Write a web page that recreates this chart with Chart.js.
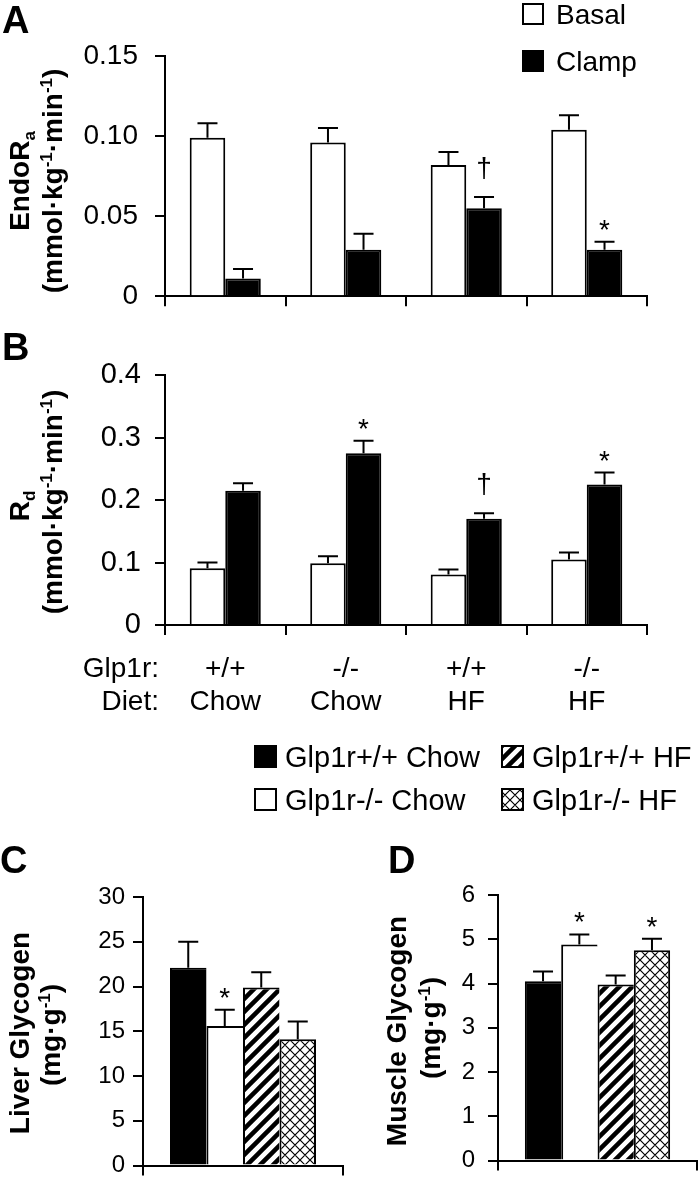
<!DOCTYPE html>
<html><head><meta charset="utf-8">
<script src="https://cdn.jsdelivr.net/npm/chart.js@4.4.0/dist/chart.umd.min.js"></script>
<style>
html,body{margin:0;padding:0;background:#fff;}
#wrap{position:relative;width:700px;height:1188px;overflow:hidden;background:#fff;}
canvas{position:absolute;}
</style></head><body>
<div id="wrap">
<canvas id="cA" width="700" height="330" style="left:0;top:0"></canvas>
<canvas id="cB" width="700" height="510" style="left:0;top:330px"></canvas>
<canvas id="cC" width="350" height="348" style="left:0;top:840px"></canvas>
<canvas id="cD" width="350" height="348" style="left:350px;top:840px"></canvas>
</div>
<script>
// ---------- data ----------
const genotypes = ['+/+', '-/-', '+/+', '-/-'];
const diets = ['Chow', 'Chow', 'HF', 'HF'];
const rowHeaders = ['Glp1r:', 'Diet:'];
const seriesAB = ['Basal', 'Clamp'];
const endoBasal = [0.099, 0.096, 0.082, 0.104];
const endoBasalSem = [0.009, 0.009, 0.008, 0.009];
const endoClamp = [0.011, 0.029, 0.055, 0.029];
const endoClampSem = [0.006, 0.010, 0.007, 0.005];
const rdBasal = [0.091, 0.099, 0.081, 0.105];
const rdBasalSem = [0.009, 0.011, 0.008, 0.011];
const rdClamp = [0.215, 0.275, 0.170, 0.225];
const rdClampSem = [0.012, 0.020, 0.009, 0.019];
const groupsCD = ['Glp1r+/+ Chow', 'Glp1r-/- Chow', 'Glp1r+/+ HF', 'Glp1r-/- HF'];
const liverGlycogen = [22.1, 15.6, 19.9, 14.1];
const liverGlycogenSem = [2.9, 1.8, 1.7, 2.0];
const muscleGlycogen = [4.05, 4.88, 3.98, 4.75];
const muscleGlycogenSem = [0.22, 0.23, 0.20, 0.26];
const yTicksA = ['0', '0.05', '0.10', '0.15'];
const yTicksB = ['0', '0.1', '0.2', '0.3', '0.4'];
const yTicksC = ['0', '5', '10', '15', '20', '25', '30'];
const yTicksD = ['0', '1', '2', '3', '4', '5', '6'];
// [dataset, index, symbol]
const marksA = [[1, 2, '†'], [1, 3, '*']];
const marksB = [[1, 1, '*'], [1, 2, '†'], [1, 3, '*']];
const marksC = [[1, 0, '*']];
const marksD = [[1, 0, '*'], [3, 0, '*']];

// ---------- helpers ----------
const FONT = '"Liberation Sans", Arial, Helvetica, sans-serif';
function fnt(size, bold) { return (bold ? 'bold ' : '') + size + 'px ' + FONT; }
function drawRich(ctx, segs, x, y, size, bold, align) {
  let total = 0;
  const items = segs.map(s => {
    const sz = (s.sub || s.sup) ? Math.round(size * 0.62) : size;
    ctx.font = fnt(sz, bold);
    const w = ctx.measureText(s.t).width;
    total += w;
    return { s, sz, w };
  });
  let cx = align === 'center' ? x - total / 2 : align === 'right' ? x - total : x;
  ctx.textAlign = 'left'; ctx.textBaseline = 'alphabetic'; ctx.fillStyle = '#000';
  items.forEach(it => {
    ctx.font = fnt(it.sz, bold);
    const dy = it.s.sub ? size * 0.2 : it.s.sup ? -size * 0.36 : 0;
    ctx.fillText(it.s.t, cx, y + dy);
    cx += it.w;
  });
}
function drawRotated(ctx, lines, size) {
  lines.forEach(l => {
    ctx.save(); ctx.translate(l.x, l.cy); ctx.rotate(-Math.PI / 2);
    drawRich(ctx, l.segs, 0, 0, size, true, 'center');
    ctx.restore();
  });
}
function drawBox(ctx, x, y, w, h, fill) {
  ctx.fillStyle = fill; ctx.fillRect(x, y, w, h);
  ctx.strokeStyle = '#000'; ctx.lineWidth = 2; ctx.strokeRect(x + 1, y + 1, w - 2, h - 2);
}
function makeHatch() {
  const s = 13, c = document.createElement('canvas'); c.width = c.height = s;
  const g = c.getContext('2d');
  g.fillStyle = '#fff'; g.fillRect(0, 0, s, s);
  g.strokeStyle = '#000'; g.lineWidth = 4.5;
  g.beginPath();
  g.moveTo(0, s); g.lineTo(s, 0);
  g.moveTo(-s / 2, s / 2); g.lineTo(s / 2, -s / 2);
  g.moveTo(s / 2, s * 1.5); g.lineTo(s * 1.5, s / 2);
  g.stroke();
  return g.createPattern(c, 'repeat');
}
function makeCross() {
  const s = 10, c = document.createElement('canvas'); c.width = c.height = s;
  const g = c.getContext('2d');
  g.fillStyle = '#fff'; g.fillRect(0, 0, s, s);
  g.strokeStyle = '#000'; g.lineWidth = 1.2;
  g.beginPath();
  g.moveTo(0, s); g.lineTo(s, 0);
  g.moveTo(-s / 2, s / 2); g.lineTo(s / 2, -s / 2);
  g.moveTo(s / 2, s * 1.5); g.lineTo(s * 1.5, s / 2);
  g.moveTo(0, 0); g.lineTo(s, s);
  g.moveTo(s / 2, -s / 2); g.lineTo(s * 1.5, s / 2);
  g.moveTo(-s / 2, s / 2); g.lineTo(s / 2, s * 1.5);
  g.stroke();
  return g.createPattern(c, 'repeat');
}
const hatch = makeHatch(), cross = makeCross();
const fillsCD = ['#000', '#fff', hatch, cross];

function extras(marks) {
  return {
    id: 'extras',
    afterDatasetsDraw(chart) {
      const ctx = chart.ctx, ys = chart.scales.y;
      ctx.save(); ctx.strokeStyle = '#000'; ctx.lineWidth = 2;
      chart.data.datasets.forEach((ds, di) => {
        chart.getDatasetMeta(di).data.forEach((el, i) => {
          const yb = ys.getPixelForValue(ds.data[i]);
          const yt = ys.getPixelForValue(ds.data[i] + ds.sem[i]);
          ctx.beginPath();
          ctx.moveTo(el.x, yb); ctx.lineTo(el.x, yt);
          ctx.moveTo(el.x - 10, yt); ctx.lineTo(el.x + 10, yt);
          ctx.stroke();
        });
      });
      ctx.fillStyle = '#000'; ctx.font = fnt(28, false); ctx.textAlign = 'center'; ctx.textBaseline = 'alphabetic';
      marks.forEach(([di, i, s]) => {
        const ds = chart.data.datasets[di];
        const el = chart.getDatasetMeta(di).data[i];
        const yt = ys.getPixelForValue(ds.data[i] + ds.sem[i]);
        ctx.fillText(s, el.x, yt + (s === '†' ? -20 : -3));
      });
      ctx.restore();
    }
  };
}
function decor(offX, offY, fn) {
  return { id: 'decor', afterDraw(chart) {
    const ctx = chart.ctx; ctx.save(); ctx.translate(-offX, -offY); fn(chart, ctx, offX, offY); ctx.restore();
  } };
}
const gridStyle = { drawOnChartArea: false, drawTicks: true, tickLength: 10, color: '#000', lineWidth: 2 };
const borderStyle = { display: true, color: '#000', width: 2 };
const common = {
  responsive: false, animation: false, devicePixelRatio: 1,
  events: [],
  plugins: { legend: { display: false }, tooltip: { enabled: false } }
};
function yScale(max, step, labels, size, pad, width) {
  return {
    min: 0, max: max,
    ticks: { stepSize: step, callback: (v, i) => labels[i], font: { family: FONT, size: size }, color: '#000', padding: pad },
    grid: Object.assign({}, gridStyle), border: Object.assign({}, borderStyle),
    afterFit(s) { s.width = width; }
  };
}
function abDatasets(b, bs, c, cs) {
  return [
    { label: seriesAB[0], data: b, sem: bs, backgroundColor: '#fff', borderColor: '#000', borderWidth: 2, borderSkipped: 'start', categoryPercentage: 0.59, barPercentage: 1 },
    { label: seriesAB[1], data: c, sem: cs, backgroundColor: '#000', borderColor: '#000', borderWidth: 2, borderSkipped: 'start', categoryPercentage: 0.59, barPercentage: 1 }
  ];
}
const titleA = [
  { x: 29, cy: 181, segs: [{ t: 'EndoR' }, { t: 'a', sub: true }] },
  { x: 62, cy: 181, segs: [{ t: '(mmol·kg' }, { t: '-1', sup: true }, { t: '·min' }, { t: '-1', sup: true }, { t: ')' }] }
];
const titleB = [
  { x: 29, cy: 506, segs: [{ t: 'R' }, { t: 'd', sub: true }] },
  { x: 62, cy: 502, segs: [{ t: '(mmol·kg' }, { t: '-1', sup: true }, { t: '·min' }, { t: '-1', sup: true }, { t: ')' }] }
];
const titleC = [
  { x: 29, cy: 1033, segs: [{ t: 'Liver Glycogen' }] },
  { x: 60, cy: 1035, segs: [{ t: '(mg·g' }, { t: '-1', sup: true }, { t: ')' }] }
];
const titleD = [
  { x: 406, cy: 1031, segs: [{ t: 'Muscle Glycogen' }] },
  { x: 440, cy: 1028, segs: [{ t: '(mg·g' }, { t: '-1', sup: true }, { t: ')' }] }
];

// ---------- Chart A ----------
new Chart(document.getElementById('cA'), {
  type: 'bar',
  data: { labels: genotypes, datasets: abDatasets(endoBasal, endoBasalSem, endoClamp, endoClampSem) },
  options: Object.assign({}, common, {
    layout: { padding: { left: 0, right: 53, top: 56, bottom: 15 } },
    scales: {
      x: { grid: Object.assign({ offset: true }, gridStyle), border: borderStyle, ticks: { display: false }, afterFit(s) { s.height = 10; } },
      y: yScale(0.15, 0.05, yTicksA, 28, 17, 165)
    }
  }),
  plugins: [extras(marksA), decor(0, 0, (chart, ctx) => {
    drawRich(ctx, [{ t: 'A' }], 2, 33, 38, true, 'left');
    chart.data.datasets.forEach((ds, i) => {
      const y = i === 0 ? 3 : 50;
      drawBox(ctx, 522, y, 22, 22, ds.backgroundColor);
      drawRich(ctx, [{ t: ds.label }], 556, y + 21, 28, false, 'left');
    });
    drawRotated(ctx, titleA, 28);
  })]
});

// ---------- Chart B ----------
const xLineH = 28 * 1.2, xPad = 17;
new Chart(document.getElementById('cB'), {
  type: 'bar',
  data: { labels: genotypes.map((g, i) => [g, diets[i]]), datasets: abDatasets(rdBasal, rdBasalSem, rdClamp, rdClampSem) },
  options: Object.assign({}, common, {
    layout: { padding: { left: 0, right: 53, top: 45, bottom: 0 } },
    scales: {
      x: { grid: Object.assign({ offset: true }, gridStyle), border: borderStyle,
           ticks: { display: true, autoSkip: false, maxRotation: 0, padding: xPad, color: '#000', font: { family: FONT, size: 28, lineHeight: 1.2 } },
           afterFit(s) { s.height = 215; } },
      y: yScale(0.4, 0.1, yTicksB, 29, 14, 165)
    }
  }),
  plugins: [extras(marksB), decor(0, 330, (chart, ctx, ox, oy) => {
    drawRich(ctx, [{ t: 'B' }], 2, 360, 38, true, 'left');
    drawRotated(ctx, titleB, 28);
    // row headers aligned with tick label lines
    const xs = chart.scales.x;
    const y0 = xs.top + oy + 10 + xPad + xLineH / 2;
    ctx.fillStyle = '#000'; ctx.font = fnt(28, false); ctx.textAlign = 'right'; ctx.textBaseline = 'middle';
    rowHeaders.forEach((h, i) => ctx.fillText(h, 159, y0 + i * xLineH));
    // legend for panels C and D
    const pos = [[254, 745], [254, 788], [501, 745], [501, 788]];
    groupsCD.forEach((lab, i) => {
      drawBox(ctx, pos[i][0], pos[i][1], 23, 23, fillsCD[i]);
      drawRich(ctx, [{ t: lab }], pos[i][0] + 31, pos[i][1] + 22, 29, false, 'left');
    });
  })]
});

// ---------- Charts C and D ----------
const bwCD = [
  { top: 2, left: 2, right: 0, bottom: 0 }, { top: 2, left: 2, right: 0, bottom: 0 },
  { top: 2, left: 2, right: 0, bottom: 0 }, { top: 2, left: 2, right: 2, bottom: 0 }
];
function cdDatasets(vals, sems) {
  return groupsCD.map((lab, i) => ({
    label: lab, data: [vals[i]], sem: [sems[i]], backgroundColor: fillsCD[i], borderColor: '#000',
    borderWidth: bwCD[i], borderSkipped: 'start', categoryPercentage: 0.73, barPercentage: 1
  }));
}
new Chart(document.getElementById('cC'), {
  type: 'bar',
  data: { labels: [''], datasets: cdDatasets(liverGlycogen, liverGlycogenSem) },
  options: Object.assign({}, common, {
    layout: { padding: { left: 0, right: 7, top: 57, bottom: 5 } },
    scales: {
      x: { grid: Object.assign({ offset: true }, gridStyle), border: borderStyle, ticks: { display: false }, afterFit(s) { s.height = 10; } },
      y: yScale(30, 5, yTicksC, 24, 8, 143)
    }
  }),
  plugins: [extras(marksC), decor(0, 840, (chart, ctx) => {
    drawRich(ctx, [{ t: 'C' }], 0, 873, 38, true, 'left');
    drawRotated(ctx, titleC, 28);
  })]
});
new Chart(document.getElementById('cD'), {
  type: 'bar',
  data: { labels: [''], datasets: cdDatasets(muscleGlycogen, muscleGlycogenSem) },
  options: Object.assign({}, common, {
    layout: { padding: { left: 0, right: 3, top: 55, bottom: 5 } },
    scales: {
      x: { grid: Object.assign({ offset: true }, gridStyle), border: borderStyle, ticks: { display: false }, afterFit(s) { s.height = 10; } },
      y: yScale(6, 1, yTicksD, 24, 13, 148)
    }
  }),
  plugins: [extras(marksD), decor(350, 840, (chart, ctx) => {
    drawRich(ctx, [{ t: 'D' }], 388, 873, 38, true, 'left');
    drawRotated(ctx, titleD, 28);
  })]
});
</script>
</body></html>
